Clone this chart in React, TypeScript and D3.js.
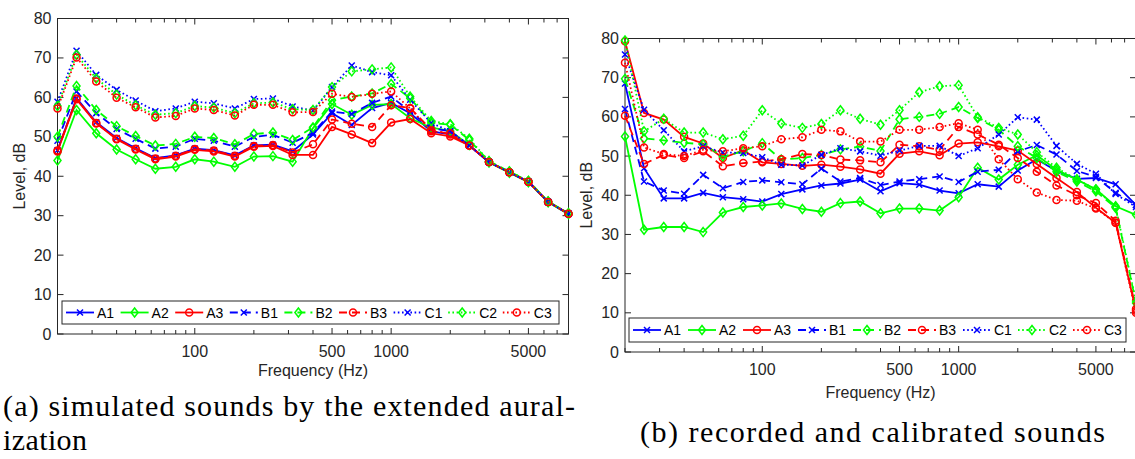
import * as d3 from 'd3';
import React, { useEffect, useRef } from 'react';

// 1/3-octave band centre frequencies (Hz)
const FREQS = [20, 25, 31.5, 40, 50, 63, 80, 100, 125, 160, 200, 250, 315, 400, 500, 630, 800, 1000, 1250, 1600, 2000, 2500, 3150, 4000, 5000, 6300, 8000];
const X_TICKS = [100, 500, 1000, 5000];
const Y_TICKS = [0, 10, 20, 30, 40, 50, 60, 70, 80];
const SERIES_NAMES = ['A1', 'A2', 'A3', 'B1', 'B2', 'B3', 'C1', 'C2', 'C3'];

// (a) simulated sounds
const simA1 = [46.6, 59.8, 53.7, 49.7, 47.1, 44.6, 45.3, 47.0, 46.6, 45.3, 47.8, 48.0, 46.3, 50.6, 56.0, 53.0, 57.3, 58.6, 56.0, 51.4, 50.6, 47.8, 43.6, 41.0, 38.6, 33.5, 30.5];
const simA2 = [44.0, 56.8, 50.9, 46.8, 44.3, 41.9, 42.4, 44.3, 43.7, 42.4, 45.0, 45.1, 43.7, 52.2, 58.3, 55.6, 58.1, 58.3, 54.7, 52.3, 51.5, 47.9, 43.5, 40.9, 38.5, 33.4, 30.4];
const simA3 = [46.3, 59.5, 53.4, 49.4, 46.8, 44.3, 45.0, 46.7, 46.3, 45.0, 47.5, 47.7, 45.4, 45.4, 52.5, 50.6, 48.4, 53.6, 54.5, 50.9, 50.1, 47.8, 43.6, 41.0, 38.6, 33.5, 30.5];
const simB1 = [49.0, 61.5, 56.0, 52.0, 49.5, 47.0, 47.5, 49.5, 49.0, 47.5, 50.0, 50.5, 48.5, 51.0, 56.4, 55.8, 58.6, 60.2, 56.4, 52.2, 51.4, 47.8, 43.6, 41.0, 38.6, 33.5, 30.5];
const simB2 = [50.0, 62.9, 56.8, 52.7, 50.2, 47.8, 48.2, 50.0, 49.7, 48.1, 50.7, 51.1, 49.2, 52.4, 59.3, 60.2, 61.0, 63.4, 59.8, 53.5, 53.1, 49.2, 43.8, 41.2, 38.8, 33.6, 30.6];
const simB3 = [46.5, 59.7, 53.5, 49.5, 47.0, 44.5, 45.2, 46.9, 46.5, 45.2, 47.7, 47.9, 46.0, 48.1, 54.4, 53.3, 52.5, 58.0, 57.3, 51.8, 50.6, 47.8, 43.6, 41.0, 38.6, 33.5, 30.5];
const simC1 = [58.9, 71.8, 65.7, 61.9, 59.2, 56.5, 57.2, 58.9, 58.5, 57.2, 59.6, 59.7, 57.7, 56.6, 62.6, 68.1, 66.4, 65.6, 59.4, 53.5, 51.4, 47.8, 43.6, 41.0, 38.6, 33.5, 30.5];
const simC2 = [57.8, 70.8, 64.8, 60.7, 58.0, 55.6, 56.0, 57.8, 57.4, 56.0, 58.5, 58.7, 57.0, 56.8, 62.6, 66.6, 67.1, 67.6, 60.2, 54.0, 53.2, 49.5, 43.8, 41.2, 38.8, 33.6, 30.6];
const simC3 = [57.2, 70.1, 64.0, 59.9, 57.5, 54.9, 55.3, 57.2, 56.8, 55.4, 58.1, 58.1, 56.2, 56.3, 60.9, 60.1, 60.9, 61.5, 57.2, 51.4, 50.9, 47.8, 43.6, 41.0, 38.6, 33.5, 30.5];

// (b) recorded and calibrated sounds
const recA1 = [68.5, 46.9, 39.2, 39.2, 40.6, 39.5, 39.0, 38.4, 40.3, 41.5, 42.5, 43.0, 44.0, 41.0, 43.1, 42.7, 41.2, 40.5, 42.8, 42.2, 46.3, 49.2, 46.2, 44.2, 44.4, 42.8, 37.5];
const recA2 = [55.0, 31.2, 31.9, 31.9, 30.6, 35.6, 37.0, 37.4, 37.9, 36.5, 35.8, 38.0, 38.4, 35.4, 36.6, 36.6, 36.1, 39.5, 47.0, 44.0, 47.8, 50.2, 46.5, 44.0, 41.5, 37.2, 35.0];
const recA3 = [79.3, 61.0, 59.3, 54.9, 53.2, 49.5, 51.5, 48.4, 48.0, 47.5, 47.8, 47.3, 46.6, 45.5, 50.6, 51.2, 50.2, 53.2, 53.5, 52.5, 51.4, 48.0, 44.4, 40.8, 36.8, 33.0, 10.5];
const recB1 = [62.0, 43.5, 41.2, 40.4, 45.2, 41.8, 43.4, 43.8, 43.3, 42.8, 46.8, 43.5, 44.4, 42.6, 43.5, 44.1, 44.8, 43.4, 46.0, 46.5, 51.2, 52.8, 50.4, 46.2, 44.7, 40.6, 37.5];
const recB2 = [69.7, 54.5, 54.0, 53.4, 53.0, 49.9, 51.2, 53.3, 49.1, 49.5, 50.3, 51.7, 52.4, 51.3, 59.4, 60.0, 60.8, 62.5, 59.7, 56.7, 52.5, 49.5, 46.0, 43.5, 41.0, 36.8, 12.5];
const recB3 = [60.3, 48.0, 50.3, 49.5, 51.2, 47.4, 48.2, 48.6, 49.2, 50.5, 50.3, 49.1, 48.9, 48.4, 52.9, 52.5, 51.6, 57.4, 55.5, 52.9, 49.5, 46.0, 42.5, 40.0, 38.0, 33.5, 11.0];
const recC1 = [75.9, 61.8, 56.6, 51.2, 52.5, 50.9, 50.8, 49.7, 47.8, 47.6, 50.3, 52.0, 51.2, 50.1, 51.4, 52.6, 52.6, 50.0, 52.0, 55.5, 59.9, 59.3, 52.6, 48.0, 45.5, 40.3, 37.0];
const recC2 = [79.5, 56.3, 59.5, 56.0, 56.0, 54.3, 55.2, 61.7, 58.3, 57.2, 58.2, 61.7, 59.5, 58.0, 61.7, 66.3, 67.8, 68.1, 59.9, 57.2, 55.5, 51.0, 47.0, 44.0, 41.5, 37.0, 13.0];
const recC3 = [73.8, 52.2, 50.5, 50.0, 51.6, 51.2, 52.0, 52.5, 54.3, 54.8, 56.7, 56.3, 53.7, 53.7, 56.7, 56.7, 57.4, 58.4, 56.7, 49.2, 44.1, 40.7, 38.8, 38.6, 36.6, 33.0, 10.0];

const SIM = [simA1, simA2, simA3, simB1, simB2, simB3, simC1, simC2, simC3];
const REC = [recA1, recA2, recA3, recB1, recB2, recB3, recC1, recC2, recC3];

const COLORS = ['#0000ff', '#00ff00', '#ff0000'];
const MARKERS = ['x', 'd', 'o'];
const DASHES = [null, '8,5', '1.6,2.6'];

const AXIS_COLOR = '#262626';
const SANS = '"Liberation Sans", Arial, Helvetica, sans-serif';
const SERIF = '"Liberation Serif", "Times New Roman", serif';

const drawMarker = (g, type, x, y, color) => {
  if (type === 'x') {
    g.append('path')
      .attr('d', `M${x - 3},${y - 3}L${x + 3},${y + 3}M${x - 3},${y + 3}L${x + 3},${y - 3}`)
      .attr('stroke', color)
      .attr('stroke-width', 1.5)
      .attr('fill', 'none');
  } else if (type === 'd') {
    g.append('path')
      .attr('d', `M${x},${y - 4.5}L${x + 3.5},${y}L${x},${y + 4.5}L${x - 3.5},${y}Z`)
      .attr('stroke', color)
      .attr('stroke-width', 1.5)
      .attr('fill', 'none');
  } else {
    g.append('circle')
      .attr('cx', x)
      .attr('cy', y)
      .attr('r', 3.5)
      .attr('stroke', color)
      .attr('stroke-width', 1.5)
      .attr('fill', 'none');
  }
};

const drawPanel = (svg, cfg, data) => {
  const { x0, x1, y0, y1 } = cfg;
  const xScale = d3.scaleLog().domain([20, 8000]).range([x0, x1]);
  const yScale = d3.scaleLinear().domain([0, 80]).range([y1, y0]);
  const g = svg.append('g');

  // box
  g.append('rect')
    .attr('x', x0)
    .attr('y', y0)
    .attr('width', x1 - x0)
    .attr('height', y1 - y0)
    .attr('fill', 'white')
    .attr('stroke', AXIS_COLOR)
    .attr('stroke-width', 1);

  // ticks (inside, on all four sides)
  const minor = [];
  [10, 100, 1000].forEach((dec) => {
    for (let k = 2; k <= 9; k++) {
      const f = dec * k;
      if (f >= 20 && f <= 8000 && !X_TICKS.includes(f)) minor.push(f);
    }
  });
  minor.forEach((f) => {
    const x = xScale(f);
    g.append('line').attr('x1', x).attr('x2', x).attr('y1', y1).attr('y2', y1 - 4).attr('stroke', AXIS_COLOR);
    g.append('line').attr('x1', x).attr('x2', x).attr('y1', y0).attr('y2', y0 + 4).attr('stroke', AXIS_COLOR);
  });
  X_TICKS.forEach((f) => {
    const x = xScale(f);
    g.append('line').attr('x1', x).attr('x2', x).attr('y1', y1).attr('y2', y1 - 6).attr('stroke', AXIS_COLOR);
    g.append('line').attr('x1', x).attr('x2', x).attr('y1', y0).attr('y2', y0 + 6).attr('stroke', AXIS_COLOR);
    g.append('text')
      .attr('x', x)
      .attr('y', y1 + 23)
      .attr('text-anchor', 'middle')
      .attr('font-family', SANS)
      .attr('font-size', 16)
      .attr('fill', AXIS_COLOR)
      .text(String(f));
  });
  Y_TICKS.forEach((v) => {
    const y = yScale(v);
    g.append('line').attr('x1', x0).attr('x2', x0 + 6).attr('y1', y).attr('y2', y).attr('stroke', AXIS_COLOR);
    g.append('line').attr('x1', x1).attr('x2', x1 - 6).attr('y1', y).attr('y2', y).attr('stroke', AXIS_COLOR);
    g.append('text')
      .attr('x', x0 - 6)
      .attr('y', y + 5.5)
      .attr('text-anchor', 'end')
      .attr('font-family', SANS)
      .attr('font-size', 16)
      .attr('fill', AXIS_COLOR)
      .text(String(v));
  });

  // axis labels
  g.append('text')
    .attr('x', (x0 + x1) / 2)
    .attr('y', y1 + cfg.xLabelGap)
    .attr('text-anchor', 'middle')
    .attr('font-family', SANS)
    .attr('font-size', 16)
    .attr('fill', AXIS_COLOR)
    .text('Frequency (Hz)');
  g.append('text')
    .attr('transform', `translate(${x0 - 33},${(y0 + y1) / 2}) rotate(-90)`)
    .attr('text-anchor', 'middle')
    .attr('font-family', SANS)
    .attr('font-size', 16)
    .attr('fill', AXIS_COLOR)
    .text('Level, dB');

  // series
  const line = d3
    .line()
    .x((d) => xScale(d[0]))
    .y((d) => yScale(d[1]));
  data.forEach((vals, i) => {
    const color = COLORS[i % 3];
    const dash = DASHES[Math.floor(i / 3)];
    const pts = FREQS.map((f, j) => [f, vals[j]]);
    const p = g
      .append('path')
      .datum(pts)
      .attr('d', line)
      .attr('fill', 'none')
      .attr('stroke', color)
      .attr('stroke-width', 1.8);
    if (dash) p.attr('stroke-dasharray', dash);
    pts.forEach((d) => drawMarker(g, MARKERS[i % 3], xScale(d[0]), yScale(d[1]), color));
  });

  // legend
  const lg = cfg.legend;
  g.append('rect')
    .attr('x', lg.x)
    .attr('y', lg.y)
    .attr('width', lg.w)
    .attr('height', lg.h)
    .attr('fill', 'white')
    .attr('stroke', AXIS_COLOR)
    .attr('stroke-width', 1);
  SERIES_NAMES.forEach((name, i) => {
    const lx = lg.x + 4 + i * lg.pitch;
    const ly = lg.y + lg.h / 2;
    const color = COLORS[i % 3];
    const dash = DASHES[Math.floor(i / 3)];
    const l = g
      .append('line')
      .attr('x1', lx)
      .attr('x2', lx + 28)
      .attr('y1', ly)
      .attr('y2', ly)
      .attr('stroke', color)
      .attr('stroke-width', 1.8);
    if (dash) l.attr('stroke-dasharray', dash);
    drawMarker(g, MARKERS[i % 3], lx + 14, ly, color);
    g.append('text')
      .attr('x', lx + 31)
      .attr('y', ly + 5)
      .attr('font-family', SANS)
      .attr('font-size', 14)
      .attr('fill', 'black')
      .text(name);
  });
};

const App = () => {
  const svgRef = useRef(null);
  const width = 1135;
  const height = 459;

  useEffect(() => {
    const svg = d3.select(svgRef.current);
    svg.selectAll('*').remove();
    svg.append('rect').attr('width', width).attr('height', height).attr('fill', 'white');

    drawPanel(
      svg,
      { x0: 57.5, x1: 568.5, y0: 18.5, y1: 334, xLabelGap: 42, legend: { x: 62, y: 301, w: 497, h: 23, pitch: 54.6 } },
      SIM
    );
    drawPanel(
      svg,
      { x0: 625, x1: 1136, y0: 38.5, y1: 352, xLabelGap: 46, legend: { x: 629, y: 318, w: 497, h: 24, pitch: 55 } },
      REC
    );

    // captions
    const cap = (x, y, w, t) =>
      svg
        .append('text')
        .attr('x', x)
        .attr('y', y)
        .attr('font-family', SERIF)
        .attr('font-size', 30)
        .attr('fill', 'black')
        .attr('textLength', w)
        .attr('lengthAdjust', 'spacing')
        .text(t);
    cap(3, 416, 572, '(a) simulated sounds by the extended aural-');
    cap(3, 450, 84, 'ization');
    cap(640, 442, 465, '(b) recorded and calibrated sounds');
  }, []);

  return (
    <svg
      ref={svgRef}
      width={width}
      height={height}
      style={{ position: 'absolute', left: 0, top: 0 }}
    ></svg>
  );
};

export default App;
